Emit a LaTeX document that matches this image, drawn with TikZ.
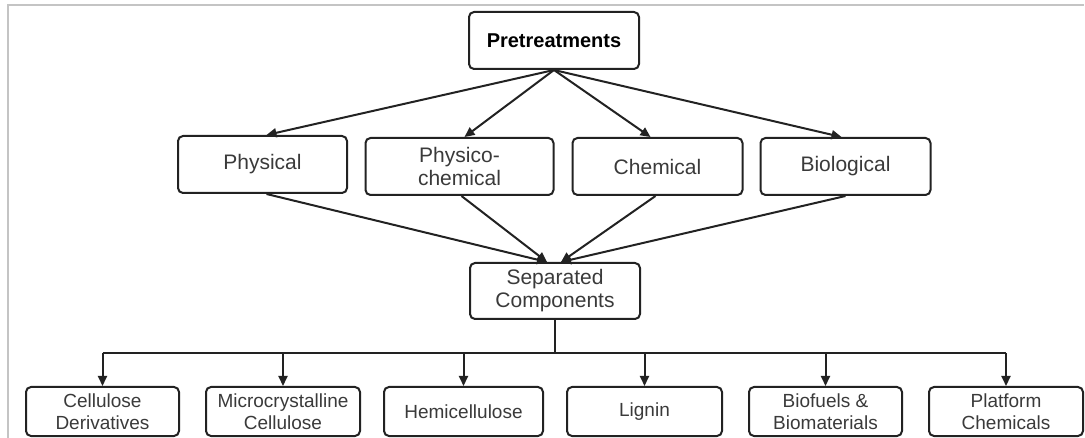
\documentclass[tikz,border=0pt]{standalone}
\usepackage{fontspec}
\setmainfont{Liberation Sans}
\usetikzlibrary{arrows.meta,calc}
\definecolor{edge}{HTML}{222222}
\definecolor{txt}{HTML}{3A3A3A}
\definecolor{frame}{HTML}{C4C4C4}
\tikzset{
  box/.style={draw=edge,line width=2pt,rounded corners=5pt,fill=white,
    align=center,text=txt,inner sep=0pt},
  midbox/.style={box,minimum height=57pt,font=\fontsize{21}{23}\selectfont},
  botbox/.style={box,minimum height=49pt,font=\fontsize{19}{22}\selectfont},
  conn/.style={draw=edge,line width=2pt},
  arr/.style={conn,-{Triangle[length=10pt,width=9pt]}},
}
\begin{document}
\begin{tikzpicture}[x=1pt,y=-1pt]
\useasboundingbox (0,0) rectangle (1085,438);
\draw[frame,line width=1.5pt] (8,438) -- (8,5) -- (1084,5);
% top
\node[box,minimum width=170pt,minimum height=57pt,text=black,
  font=\fontsize{20}{23}\selectfont\bfseries] (pre) at (554,40.5) {Pretreatments};
% middle
\node[midbox,minimum width=169pt] (phys) at (262.5,164.5) {Physical};
\node[midbox,minimum width=188pt] (pc) at (459.5,166.5) {Physico-\\chemical};
\node[midbox,minimum width=170pt] (chem) at (657.5,166.5) {Chemical};
\node[midbox,minimum width=170pt] (bio) at (845.5,166.5) {Biological};
% separated
\node[midbox,minimum width=170pt,minimum height=56pt] (sep) at (555,291) {Separated\\Components};
% bottom
\node[botbox,minimum width=153pt] (cd) at (102.5,411.5) {Cellulose\\Derivatives};
\node[botbox,minimum width=154pt] (mc) at (283,411.5) {Microcrystalline\\Cellulose};
\node[botbox,minimum width=159pt] (hc) at (463.5,411.5) {Hemicellulose};
\node[botbox,minimum width=155pt] (lg) at (644.5,411.5) {Lignin};
\node[botbox,minimum width=153pt] (bf) at (825.5,411.5) {Biofuels \&\\Biomaterials};
\node[botbox,minimum width=154pt] (pl) at (1006,411.5) {Platform\\Chemicals};
% arrows top -> middle
\draw[arr] (pre.south) -- ([xshift=4pt]phys.north);
\draw[arr] (pre.south) -- ([xshift=5pt]pc.north);
\draw[arr] (pre.south) -- ([xshift=-7pt]chem.north);
\draw[arr] (pre.south) -- ([xshift=-4pt]bio.north);
% middle -> separated
\draw[arr] ([xshift=4pt]phys.south) -- ([xshift=-8pt]sep.north);
\draw[arr] ([xshift=2pt]pc.south) -- ([xshift=-8pt]sep.north);
\draw[arr] ([xshift=-2pt]chem.south) -- ([xshift=6pt]sep.north);
\draw[arr] (bio.south) -- ([xshift=6pt]sep.north);
% tree
\coordinate (bar) at (555,353);
\draw[conn] (sep.south) -- (bar);
\draw[conn] (cd.north |- bar) -- (pl.north |- bar);
\foreach \n in {cd,mc,hc,lg,bf,pl}
  \draw[arr] (\n.north |- bar) -- (\n.north);
\end{tikzpicture}
\end{document}
